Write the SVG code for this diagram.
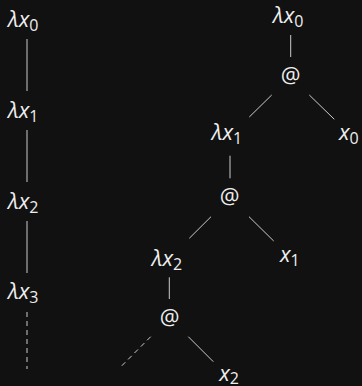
<svg xmlns="http://www.w3.org/2000/svg" width="362" height="386" viewBox="0 0 362 386">
<style>
text{font-family:"Open Sans","Noto Sans",sans-serif;font-size:22px;fill:#eeeeee}
.i{font-style:italic}
.s{font-size:16px;font-style:normal}
.e{stroke:#cccccc;stroke-width:1;fill:none}
.d{stroke-dasharray:5,4}
</style>
<rect width="362" height="386" fill="#111111"/>
<g id="connectors">
<line class="e" x1="27" y1="39" x2="27" y2="91"/>
<line class="e" x1="27" y1="130" x2="27" y2="182"/>
<line class="e" x1="27" y1="221" x2="27" y2="273"/>
<line class="e d" x1="27" y1="312" x2="27" y2="369"/>
<line class="e" x1="290.7" y1="35" x2="290.7" y2="57"/>
<line class="e" x1="271.7" y1="95" x2="249.3" y2="117"/>
<line class="e" x1="309.3" y1="95" x2="334.3" y2="119.3"/>
<line class="e" x1="230" y1="155.7" x2="230" y2="178.3"/>
<line class="e" x1="211" y1="216.7" x2="189.3" y2="238.3"/>
<line class="e" x1="249" y1="216.7" x2="273.7" y2="241"/>
<line class="e" x1="169.3" y1="277.3" x2="169.3" y2="299"/>
<line class="e d" x1="150.7" y1="336.7" x2="119.3" y2="368.3"/>
<line class="e" x1="188.3" y1="336.7" x2="213.3" y2="361.7"/>
</g>
<g id="L0"><text x="8" y="26.7" class="i">λx<tspan class="s" dy="4">0</tspan></text></g>
<g id="L1"><text x="8" y="118.3" class="i">λx<tspan class="s" dy="4">1</tspan></text></g>
<g id="L2"><text x="8" y="209" class="i">λx<tspan class="s" dy="4">2</tspan></text></g>
<g id="L3"><text x="8" y="299.3" class="i">λx<tspan class="s" dy="4">3</tspan></text></g>
<g id="R0"><text x="273" y="23.3" class="i">λx<tspan class="s" dy="4">0</tspan></text></g>
<g id="A1"><text x="290.7" y="83" text-anchor="middle">@</text></g>
<g id="R1"><text x="211.7" y="139.5" class="i">λx<tspan class="s" dy="4">1</tspan></text></g>
<g id="X0"><text x="339" y="140" class="i">x<tspan class="s" dy="4">0</tspan></text></g>
<g id="A2"><text x="229.7" y="204" text-anchor="middle">@</text></g>
<g id="R2"><text x="151.7" y="266" class="i">λx<tspan class="s" dy="4">2</tspan></text></g>
<g id="X1"><text x="280" y="262" class="i">x<tspan class="s" dy="4">1</tspan></text></g>
<g id="A3"><text x="169.7" y="325" text-anchor="middle">@</text></g>
<g id="X2"><text x="219.3" y="381" class="i">x<tspan class="s" dy="3">2</tspan></text></g>
</svg>
